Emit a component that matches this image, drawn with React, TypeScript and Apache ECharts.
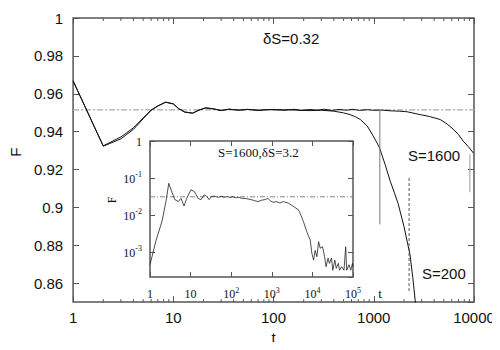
import React, { useEffect, useRef } from "react";
import * as echarts from "echarts";

// ---------- data ----------
// main panel (delta S = 0.32)
const tS200 = [1, 2, 3, 4, 5, 6, 7, 8.4, 10, 11.3, 13, 15.6, 18, 21, 25, 30, 36, 45, 55, 70, 90, 110, 140, 180, 230, 300, 400, 500, 580, 660, 735, 860, 960, 1080, 1150, 1300, 1460, 1600, 1750, 2000, 2300, 2450, 2600, 2700];
const fS200 = [0.9668, 0.9323, 0.9362, 0.9412, 0.9468, 0.9512, 0.9535, 0.9556, 0.9547, 0.9522, 0.9503, 0.9497, 0.9514, 0.9526, 0.9521, 0.9511, 0.9519, 0.9513, 0.9518, 0.9512, 0.9517, 0.9514, 0.9516, 0.9513, 0.9511, 0.9513, 0.9508, 0.9499, 0.949, 0.9478, 0.9464, 0.943, 0.9388, 0.934, 0.931, 0.9225, 0.9138, 0.908, 0.902, 0.89, 0.875, 0.863, 0.85, 0.842];

const tS1600 = [1, 2, 3, 4, 5, 6, 7, 8.4, 10, 11.3, 13, 15.6, 18, 21, 25, 30, 36, 45, 55, 70, 90, 110, 130, 160, 190, 230, 270, 320, 380, 450, 530, 620, 720, 850, 1000, 1200, 1460, 1800, 2150, 2900, 3600, 4600, 5400, 6200, 7000, 7800, 8800, 9900, 10000];
const fS1600 = [0.9668, 0.9325, 0.9372, 0.942, 0.9472, 0.9514, 0.9536, 0.9555, 0.9546, 0.9521, 0.9504, 0.9498, 0.9513, 0.9525, 0.952, 0.9512, 0.9518, 0.9514, 0.9517, 0.9513, 0.9516, 0.9517, 0.9513, 0.9518, 0.9512, 0.9517, 0.9513, 0.9518, 0.9512, 0.9517, 0.9513, 0.9518, 0.9512, 0.9516, 0.9513, 0.9514, 0.951, 0.9508, 0.9505, 0.949, 0.948, 0.9464, 0.944, 0.9413, 0.9385, 0.935, 0.932, 0.9286, 0.9284];

const plateauMain = 0.9515;
const solidMarkT = 1150;
const solidMarkF = [0.9515, 0.891];
const dashMarkT = 2250;
const dashMarkF = [0.9155, 0.855];
const rightMarkT = 9100;
const rightMarkF = [0.928, 0.908];

const minorTicksMain = [2, 3, 4, 5, 6, 7, 8, 9, 20, 30, 40, 50, 60, 70, 80, 90, 200, 300, 400, 500, 600, 700, 800, 900, 2000, 3000, 4000, 5000, 6000, 7000, 8000, 9000];

// inset panel (S = 1600, delta S = 3.2)
const tInset = [1, 1.4, 2, 2.5, 2.9, 3.5, 4.1, 5, 5.8, 6.9, 8, 10.2, 12.3, 15.4, 18, 21.6, 24.7, 28.5, 33, 40, 48, 57, 68, 80, 95, 110, 130, 155, 185, 219, 260, 310, 370, 456, 560, 670, 800, 930, 1070, 1300, 1590, 1910, 2540, 3400, 4520, 4980, 6020, 7290, 8830, 9720, 10700, 11700, 12900, 14200, 15600, 17800, 20000, 21700, 24300, 26300, 29500, 31800, 35700, 38700, 43400, 46700, 52500, 60000, 66000, 70000, 80000, 88000, 97000, 100000];
const fInset = [4.5e-4, 2.0e-3, 7.1e-3, 0.025, 0.072, 0.04, 0.026, 0.023, 0.028, 0.0174, 0.028, 0.048, 0.043, 0.028, 0.026, 0.035, 0.032, 0.026, 0.032, 0.032, 0.03, 0.032, 0.03, 0.0315, 0.0295, 0.031, 0.029, 0.03, 0.028, 0.028, 0.027, 0.026, 0.0245, 0.023, 0.025, 0.026, 0.028, 0.024, 0.022, 0.023, 0.021, 0.023, 0.021, 0.017, 0.0138, 0.0112, 0.0066, 0.0035, 0.0021, 9.1e-4, 6.0e-4, 1.1e-3, 7.4e-4, 1.9e-3, 1.26e-3, 1.38e-3, 7.4e-4, 4.0e-4, 6.8e-4, 4.9e-4, 6.8e-4, 3.2e-4, 6.0e-4, 3.6e-4, 4.9e-4, 3.2e-4, 4.0e-4, 3.2e-4, 1.38e-3, 3.2e-4, 4.5e-4, 3.2e-4, 4.9e-4, 4.0e-4];
const plateauInset = 0.031;

const mainYMin = 0.85;
const mainYMax = 1;
const mainXMin = 1;
const mainXMax = 10000;
const insetXMin = 1;
const insetXMax = 100000;
const insetYMin = 2.1e-4;
const insetYMax = 1;

// ---------- styles ----------
const frame = "#555";
const ink = "#111";
const sans = "Liberation Sans";
const serif = "Liberation Serif";

const zip = (a: number[], b: number[]) => a.map((v, i) => [v, b[i]]);

const powLabel = (v: number) => {
  const e = Math.round(Math.log10(v));
  if (e === 0) return "{b|1}";
  if (e === 1) return "{b|10}";
  return `{b|10}{s|${e}}`;
};
const richPow = {
  b: { fontFamily: serif, fontSize: 12, color: ink, lineHeight: 14, verticalAlign: "bottom" },
  s: { fontFamily: serif, fontSize: 8, color: ink, lineHeight: 8, verticalAlign: "top" },
};

export default function App() {
  const ref = useRef<HTMLDivElement>(null);
  useEffect(() => {
    if (!ref.current) return;
    const chart = echarts.init(ref.current, null, { renderer: "svg" });
    const tickStyle = { color: frame, width: 1 };
    const option: any = {
      animation: false,
      backgroundColor: "#fff",
      grid: [
        { left: 72, top: 18, width: 402, height: 294, show: true, borderColor: frame, borderWidth: 1.5, backgroundColor: "transparent" },
        { left: 150, top: 141, width: 203, height: 136, show: true, borderColor: frame, borderWidth: 1.5, backgroundColor: "#fff" },
      ],
      xAxis: [
        {
          gridIndex: 0, type: "log", logBase: 10, min: mainXMin, max: mainXMax, position: "bottom",
          axisLine: { show: false }, splitLine: { show: false },
          axisTick: { inside: true, length: 6, lineStyle: tickStyle },
          axisLabel: { fontFamily: sans, fontSize: 15, color: ink, margin: 8, formatter: (v: number) => String(Math.round(v)) },
          name: "t", nameLocation: "middle", nameGap: 24,
          nameTextStyle: { fontFamily: sans, fontSize: 15, color: ink },
        },
        {
          gridIndex: 0, type: "log", logBase: 10, min: mainXMin, max: mainXMax, position: "top",
          axisLine: { show: false }, splitLine: { show: false },
          axisTick: { inside: true, length: 6, lineStyle: tickStyle },
          axisLabel: { show: false },
        },
        {
          gridIndex: 1, type: "log", logBase: 10, min: insetXMin, max: insetXMax, position: "bottom",
          axisLine: { show: false }, splitLine: { show: false },
          axisTick: { inside: true, length: 5, lineStyle: tickStyle },
          axisLabel: { margin: 9, formatter: powLabel, rich: richPow, fontFamily: serif, fontSize: 12, color: ink },
        },
        {
          gridIndex: 1, type: "log", logBase: 10, min: insetXMin, max: insetXMax, position: "top",
          axisLine: { show: false }, splitLine: { show: false },
          axisTick: { inside: true, length: 5, lineStyle: tickStyle },
          axisLabel: { show: false },
        },
      ],
      yAxis: [
        {
          gridIndex: 0, type: "value", min: mainYMin, max: mainYMax, splitNumber: 7, position: "left",
          axisLine: { show: false }, splitLine: { show: false },
          axisTick: { inside: true, length: 6, lineStyle: tickStyle },
          axisLabel: { fontFamily: sans, fontSize: 15, color: ink, margin: 10, showMinLabel: false },
          name: "F", nameLocation: "middle", nameGap: 50, nameRotate: 90,
          nameTextStyle: { fontFamily: sans, fontSize: 15, color: ink, padding: [0, 0, 0, 16] },
        },
        {
          gridIndex: 0, type: "value", min: mainYMin, max: mainYMax, splitNumber: 7, position: "right",
          axisLine: { show: false }, splitLine: { show: false },
          axisTick: { inside: true, length: 6, lineStyle: tickStyle },
          axisLabel: { show: false },
        },
        {
          gridIndex: 1, type: "log", logBase: 10, min: insetYMin, max: insetYMax, position: "left",
          axisLine: { show: false }, splitLine: { show: false },
          axisTick: { inside: true, length: 5, lineStyle: tickStyle },
          axisLabel: { margin: 8, formatter: powLabel, rich: richPow, fontFamily: serif, fontSize: 12, color: ink, showMinLabel: false },
          name: "F", nameLocation: "middle", nameGap: 32, nameRotate: 90,
          nameTextStyle: { fontFamily: serif, fontSize: 12, color: ink, padding: [0, 0, 0, 18] },
        },
        {
          gridIndex: 1, type: "log", logBase: 10, min: insetYMin, max: insetYMax, position: "right",
          axisLine: { show: false }, splitLine: { show: false },
          axisTick: { inside: true, length: 5, lineStyle: tickStyle },
          axisLabel: { show: false },
        },
      ],
      series: [
        {
          name: "plateau", type: "line", xAxisIndex: 0, yAxisIndex: 0, symbol: "none", silent: true,
          data: [[mainXMin, plateauMain], [mainXMax, plateauMain]],
          lineStyle: { color: "#aaa", width: 1.2, type: [6, 2, 2, 2] },
        },
        {
          name: "S=200", type: "line", xAxisIndex: 0, yAxisIndex: 0, symbol: "none",
          data: zip(tS200, fS200), lineStyle: { color: ink, width: 1 },
        },
        {
          name: "S=1600", type: "line", xAxisIndex: 0, yAxisIndex: 0, symbol: "none",
          data: zip(tS1600, fS1600), lineStyle: { color: ink, width: 1 },
        },
        {
          name: "mark1", type: "line", xAxisIndex: 0, yAxisIndex: 0, symbol: "none", silent: true,
          data: solidMarkF.map((f) => [solidMarkT, f]), lineStyle: { color: "#777", width: 1 },
        },
        {
          name: "mark2", type: "line", xAxisIndex: 0, yAxisIndex: 0, symbol: "none", silent: true,
          data: dashMarkF.map((f) => [dashMarkT, f]), lineStyle: { color: "#555", width: 1, type: [3, 2] },
        },
        {
          name: "mark3", type: "line", xAxisIndex: 0, yAxisIndex: 0, symbol: "none", silent: true,
          data: rightMarkF.map((f) => [rightMarkT, f]), lineStyle: { color: "#999", width: 1 },
        },
        {
          name: "minorTicks", type: "custom", xAxisIndex: 0, yAxisIndex: 0, silent: true, clip: false,
          data: minorTicksMain.map((v) => [v, mainYMin]),
          renderItem: (_p: any, api: any) => {
            const top = api.coord([api.value(0), mainYMax]);
            const bot = api.coord([api.value(0), mainYMin]);
            const st = { stroke: frame, lineWidth: 1 };
            return {
              type: "group",
              children: [
                { type: "line", shape: { x1: top[0], y1: top[1], x2: top[0], y2: top[1] + 3 }, style: st },
                { type: "line", shape: { x1: bot[0], y1: bot[1], x2: bot[0], y2: bot[1] - 3 }, style: st },
              ],
            };
          },
        },
        {
          name: "insetPlateau", type: "line", xAxisIndex: 2, yAxisIndex: 2, symbol: "none", silent: true,
          data: [[insetXMin, plateauInset], [insetXMax, plateauInset]],
          lineStyle: { color: "#888", width: 1, type: [5, 2, 1, 2] },
        },
        {
          name: "inset", type: "line", xAxisIndex: 2, yAxisIndex: 2, symbol: "none",
          data: zip(tInset, fInset), lineStyle: { color: "#222", width: 0.8 },
        },
      ],
      graphic: [
        { type: "text", x: 263, y: 38, style: { text: "δS=0.32", fontFamily: sans, fontSize: 15, fill: ink, align: "left", verticalAlign: "middle" } },
        { type: "text", x: 408, y: 155, style: { text: "S=1600", fontFamily: sans, fontSize: 15, fill: ink, align: "left", verticalAlign: "middle" } },
        { type: "text", x: 422, y: 273, style: { text: "S=200", fontFamily: sans, fontSize: 15, fill: ink, align: "left", verticalAlign: "middle" } },
        { type: "text", x: 218, y: 152, z: 10, style: { text: "S=1600,δS=3.2", fontFamily: serif, fontSize: 13, fill: ink, align: "left", verticalAlign: "middle" } },
        { type: "text", x: 380, y: 293, style: { text: "t", fontFamily: serif, fontSize: 13, fill: ink, align: "center", verticalAlign: "middle" } },
      ],
    };
    chart.setOption(option);
    return () => chart.dispose();
  }, []);
  return <div ref={ref} style={{ width: 500, height: 350, margin: -8 }} />;
}
